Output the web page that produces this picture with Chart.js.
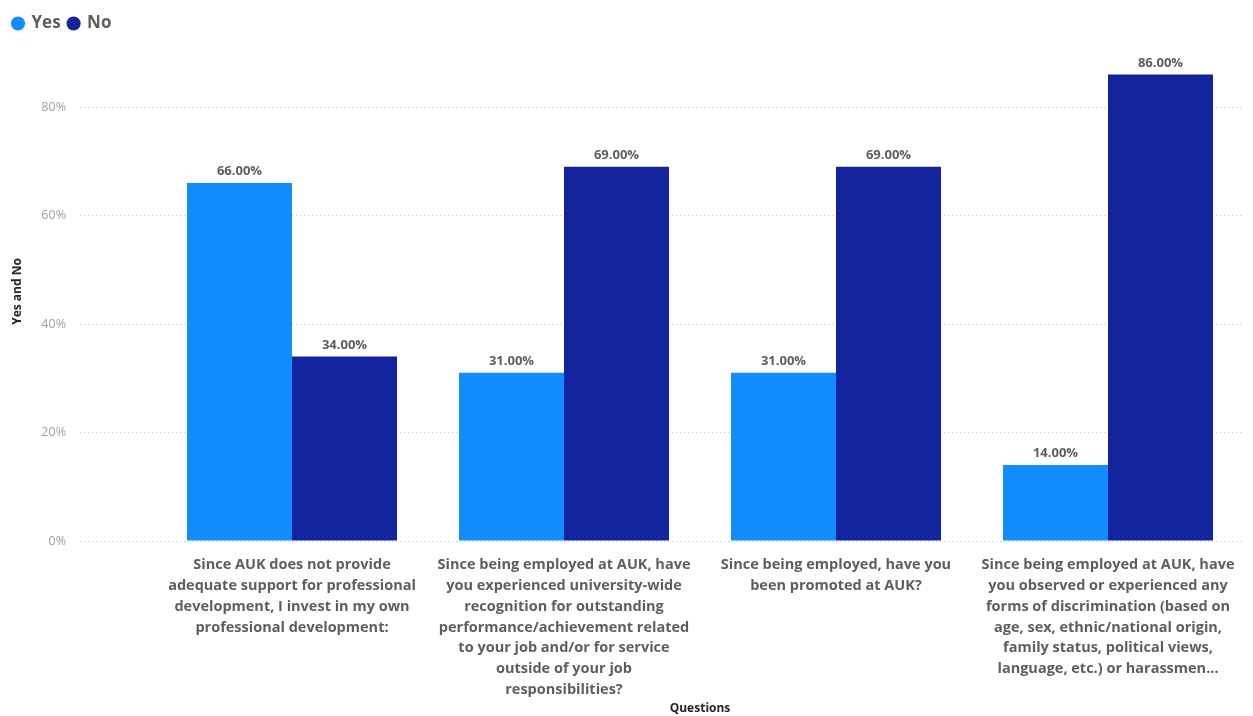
<!DOCTYPE html>
<html>
<head>
<meta charset="utf-8">
<script src="https://cdn.jsdelivr.net/npm/chart.js@4.4.1/dist/chart.umd.min.js"></script>
<style>
  html, body { margin: 0; padding: 0; background: #fff; }
  #wrap { width: 1253px; height: 716px; position: relative; }
</style>
</head>
<body>
<div id="wrap"><canvas id="c" width="1253" height="716"></canvas></div>
<script>
const categories = [
  ["Since AUK does not provide", "adequate support for professional", "development, I invest in my own", "professional development:"],
  ["Since being employed at AUK, have", "you experienced university-wide", "recognition for outstanding", "performance/achievement related", "to your job and/or for service", "outside of your job", "responsibilities?"],
  ["Since being employed, have you", "been promoted at AUK?"],
  ["Since being employed at AUK, have", "you observed or experienced any", "forms of discrimination (based on", "age, sex, ethnic/national origin,", "family status, political views,", "language, etc.) or harassmen..."]
];
const yesValues = [66, 31, 31, 14];
const noValues = [34, 69, 69, 86];
const yTicks = [0, 20, 40, 60, 80];
const seriesNames = ["Yes", "No"];

const FONT = "'Open Sans', 'Noto Sans', sans-serif";

const dataLabels = {
  id: 'dataLabels',
  afterDatasetsDraw(chart) {
    const ctx = chart.ctx;
    ctx.save();
    ctx.font = "bold 13px " + FONT;
    ctx.fillStyle = '#605e5c';
    ctx.textAlign = 'center';
    ctx.textBaseline = 'bottom';
    chart.data.datasets.forEach((ds, i) => {
      chart.getDatasetMeta(i).data.forEach((bar, j) => {
        ctx.fillText(ds.data[j].toFixed(2) + '%', bar.x, bar.y - 5);
      });
    });
    ctx.restore();
  }
};

new Chart(document.getElementById('c'), {
  type: 'bar',
  data: {
    labels: categories,
    datasets: [
      { label: seriesNames[0], data: yesValues, backgroundColor: '#118DFF', categoryPercentage: 0.772, barPercentage: 1.0 },
      { label: seriesNames[1], data: noValues, backgroundColor: '#12239E', categoryPercentage: 0.772, barPercentage: 1.0 }
    ]
  },
  options: {
    responsive: false,
    animation: false,
    layout: { padding: { left: 5, right: 9, top: 7, bottom: 0 } },
    plugins: {
      legend: {
        position: 'top',
        align: 'start',
        labels: {
          usePointStyle: true,
          pointStyle: 'circle',
          boxWidth: 10,
          boxHeight: 10,
          padding: 8,
          color: '#605e5c',
          font: { family: FONT, size: 17, weight: 'bold' }
        }
      },
      tooltip: { enabled: false }
    },
    scales: {
      x: {
        afterFit(scale) { scale.height = 175; },
        grid: { display: false, drawTicks: false },
        border: { display: false },
        ticks: {
          maxRotation: 0, autoSkip: false, padding: 14,
          color: '#605e5c',
          font: { family: FONT, size: 14.5, weight: 'bold', lineHeight: 1.43 }
        },
        title: {
          display: true, text: 'Questions', color: '#252423',
          font: { family: FONT, size: 12, weight: 'bold' },
          padding: { top: 0, bottom: 0 }
        }
      },
      y: {
        min: 0, max: 92,
        afterBuildTicks(scale) { scale.ticks = yTicks.map(v => ({ value: v })); },
        afterFit(scale) { scale.width = 151; },
        border: { display: false, dash: [1, 3] },
        grid: {
          color: '#c8c8c8', tickBorderDash: [1, 3],
          tickColor: '#c8c8c8', tickLength: 76, drawTicks: true
        },
        ticks: {
          padding: 14, color: '#a19f9d',
          font: { family: FONT, size: 12.5 },
          callback: v => v + '%'
        },
        title: {
          display: true, text: 'Yes and No', color: '#252423',
          font: { family: FONT, size: 12, weight: 'bold' },
          padding: { top: 5, bottom: 0 }
        }
      }
    }
  },
  plugins: [dataLabels]
});
</script>
</body>
</html>
